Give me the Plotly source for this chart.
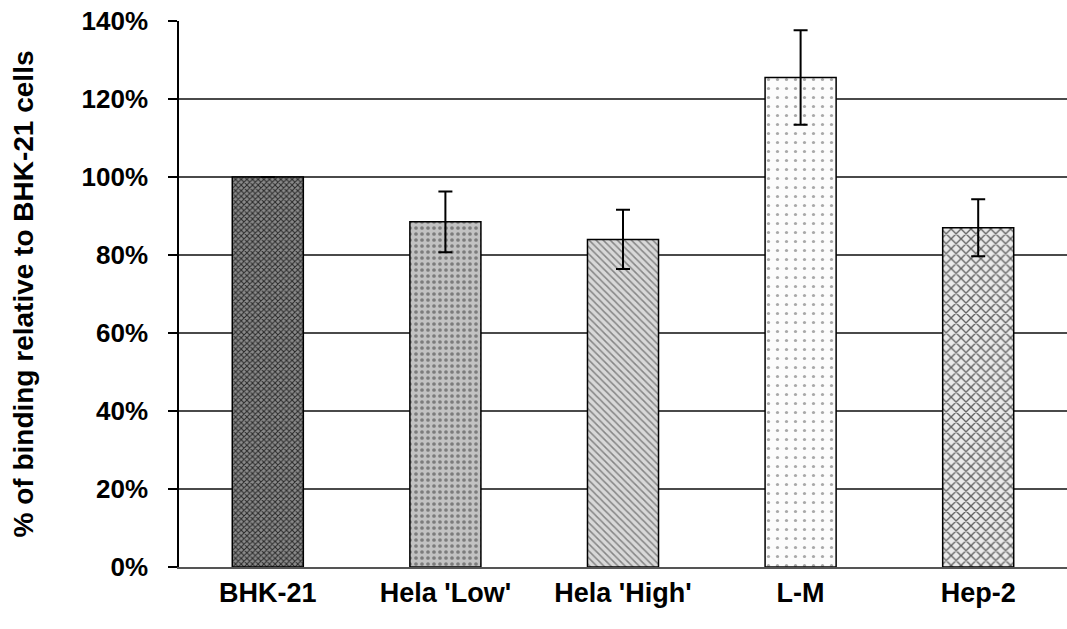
import plotly.graph_objects as go

categories = ["BHK-21", "Hela 'Low'", "Hela 'High'", "L-M", "Hep-2"]
binding_pct = [100, 88.5, 84, 125.5, 87]
error_pct = [0, 7.8, 7.6, 12.1, 7.3]
y_ticks = [0, 20, 40, 60, 80, 100, 120, 140]
y_tick_text = [f"{v}%" for v in y_ticks]

pattern_shapes = ["x", ".", "\\", ".", "x"]
pattern_fg = ["#2a2a2a", "#7c7c7c", "#858585", "#a8a8a8", "#606060"]
base_colors = ["#8a8a8a", "#c2c2c2", "#d8d8d8", "#fcfcfc", "#eaeaea"]
pattern_size = [4, 6, 5, 9, 7]
pattern_solid = [0.45, 0.3, 0.3, 0.1, 0.35]

FONT = "Liberation Sans, Arial, sans-serif"

fig = go.Figure()
# solid base fill
fig.add_trace(go.Bar(
    x=categories, y=binding_pct, width=0.4,
    marker=dict(color=base_colors, line=dict(width=0)),
    showlegend=False, hoverinfo="skip",
))
# pattern overlay + outline + error bars
fig.add_trace(go.Bar(
    x=categories, y=binding_pct, width=0.4,
    marker=dict(
        color="rgba(0,0,0,0)",
        line=dict(color="black", width=1.5),
        pattern=dict(shape=pattern_shapes, fgcolor=pattern_fg, bgcolor="rgba(0,0,0,0)",
                     size=pattern_size, solidity=pattern_solid, fillmode="replace"),
    ),
    error_y=dict(type="data", array=error_pct, visible=True, color="black",
                 thickness=2, width=7),
    showlegend=False,
))

fig.update_layout(
    width=1067, height=629,
    barmode="overlay",
    margin=dict(l=179, r=0, t=21, b=62),
    paper_bgcolor="white", plot_bgcolor="white",
    font=dict(family=FONT, color="black"),
    xaxis=dict(
        showline=True, linecolor="#555555", linewidth=2,
        ticks="", showgrid=False,
        tickfont=dict(family=FONT, size=27, color="black", weight="bold"),
        ticklabelstandoff=1,
    ),
    yaxis=dict(
        range=[0, 140], tickvals=y_ticks, ticktext=y_tick_text,
        showline=True, linecolor="black", linewidth=1.5,
        ticks="outside", ticklen=9, tickcolor="black", tickwidth=1.5,
        showgrid=True, gridcolor="#4a4a4a", gridwidth=1.5,
        zeroline=False,
        tickfont=dict(family=FONT, size=26, color="black", weight="bold"),
        ticklabelstandoff=15,
        title=dict(text="% of binding relative to BHK-21 cells",
                   font=dict(family=FONT, size=28, color="black", weight="bold"),
                   standoff=40),
    ),
)

fig.write_html("out.html")
